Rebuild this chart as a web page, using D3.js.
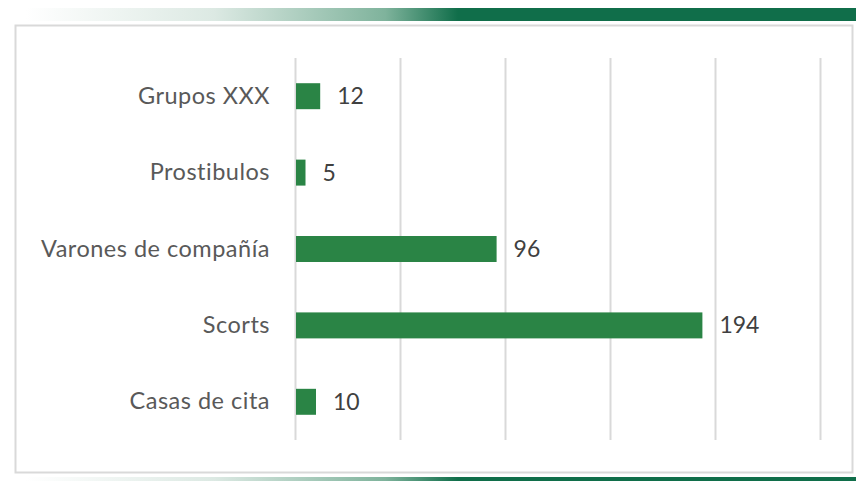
<!DOCTYPE html>
<html>
<head>
<meta charset="utf-8">
<script src="https://cdn.jsdelivr.net/npm/d3@7"></script>
<style>
  body { margin: 0; background: #fff; }
  svg { display: block; }
</style>
</head>
<body>
<svg id="chart"></svg>
<script>
const categories = ["Grupos XXX", "Prostibulos", "Varones de compañía", "Scorts", "Casas de cita"];
const values = [12, 5, 96, 194, 10];
const xTicks = [0, 50, 100, 150, 200, 250];

const width = 856, height = 481;
const margin = { top: 58, left: 295, bottom: 41, right: 36 };
const iwidth = width - margin.left - margin.right;
const iheight = height - margin.top - margin.bottom;
const font = "Lato, Calibri, sans-serif";

const svg = d3.select("#chart").attr("width", width).attr("height", height);

// decorative gradient strips
const defs = svg.append("defs");
const grad = defs.append("linearGradient").attr("id", "band").attr("x1", 0).attr("x2", 1);
grad.append("stop").attr("offset", "0.03").attr("stop-color", "#ffffff");
grad.append("stop").attr("offset", "0.25").attr("stop-color", "#dce9e3");
grad.append("stop").attr("offset", "0.45").attr("stop-color", "#7fb39c");
grad.append("stop").attr("offset", "0.535").attr("stop-color", "#106e4a");
grad.append("stop").attr("offset", "1").attr("stop-color", "#106e4a");

svg.append("rect").attr("x", 0).attr("y", 8).attr("width", width).attr("height", 13).attr("fill", "url(#band)");
svg.append("rect").attr("x", 0).attr("y", 477).attr("width", width).attr("height", 4).attr("fill", "url(#band)");

// chart frame
svg.append("rect").attr("x", 15.5).attr("y", 25.5).attr("width", 837).attr("height", 447)
  .attr("fill", "#fff").attr("stroke", "#d9d9d9").attr("stroke-width", 2);

const g = svg.append("g").attr("transform", `translate(${margin.left},${margin.top})`);

const x = d3.scaleLinear().domain([0, 250]).range([0, iwidth]);
const y = d3.scaleBand().domain(categories).range([0, iheight]).paddingInner(0.66).paddingOuter(0.33);

g.append("g")
  .call(d3.axisBottom(x).tickValues(xTicks).tickSize(iheight).tickFormat(""))
  .call(a => a.select(".domain").remove())
  .call(a => a.selectAll("line").attr("stroke", "#d9d9d9").attr("stroke-width", 2));

g.selectAll("rect.bar").data(values).enter().append("rect")
  .attr("class", "bar")
  .attr("x", x(0) + 1)
  .attr("y", (d, i) => y(categories[i]))
  .attr("height", y.bandwidth())
  .attr("width", d => x(d) - 1)
  .attr("fill", "#2a8445");

g.append("g")
  .call(d3.axisLeft(y).tickSize(0).tickPadding(25))
  .attr("font-family", font)
  .attr("font-size", 23.5)
  .call(a => a.select(".domain").remove())
  .call(a => a.selectAll("text").attr("fill", "#595959").attr("letter-spacing", "0.5px"));

g.selectAll("text.value").data(values).enter().append("text")
  .attr("class", "value")
  .attr("x", d => x(d) + 17)
  .attr("y", (d, i) => y(categories[i]) + y.bandwidth() / 2)
  .attr("dy", "0.35em")
  .attr("fill", "#404040")
  .attr("font-family", font)
  .attr("font-size", 23)
  .text(d => d);
</script>
</body>
</html>
